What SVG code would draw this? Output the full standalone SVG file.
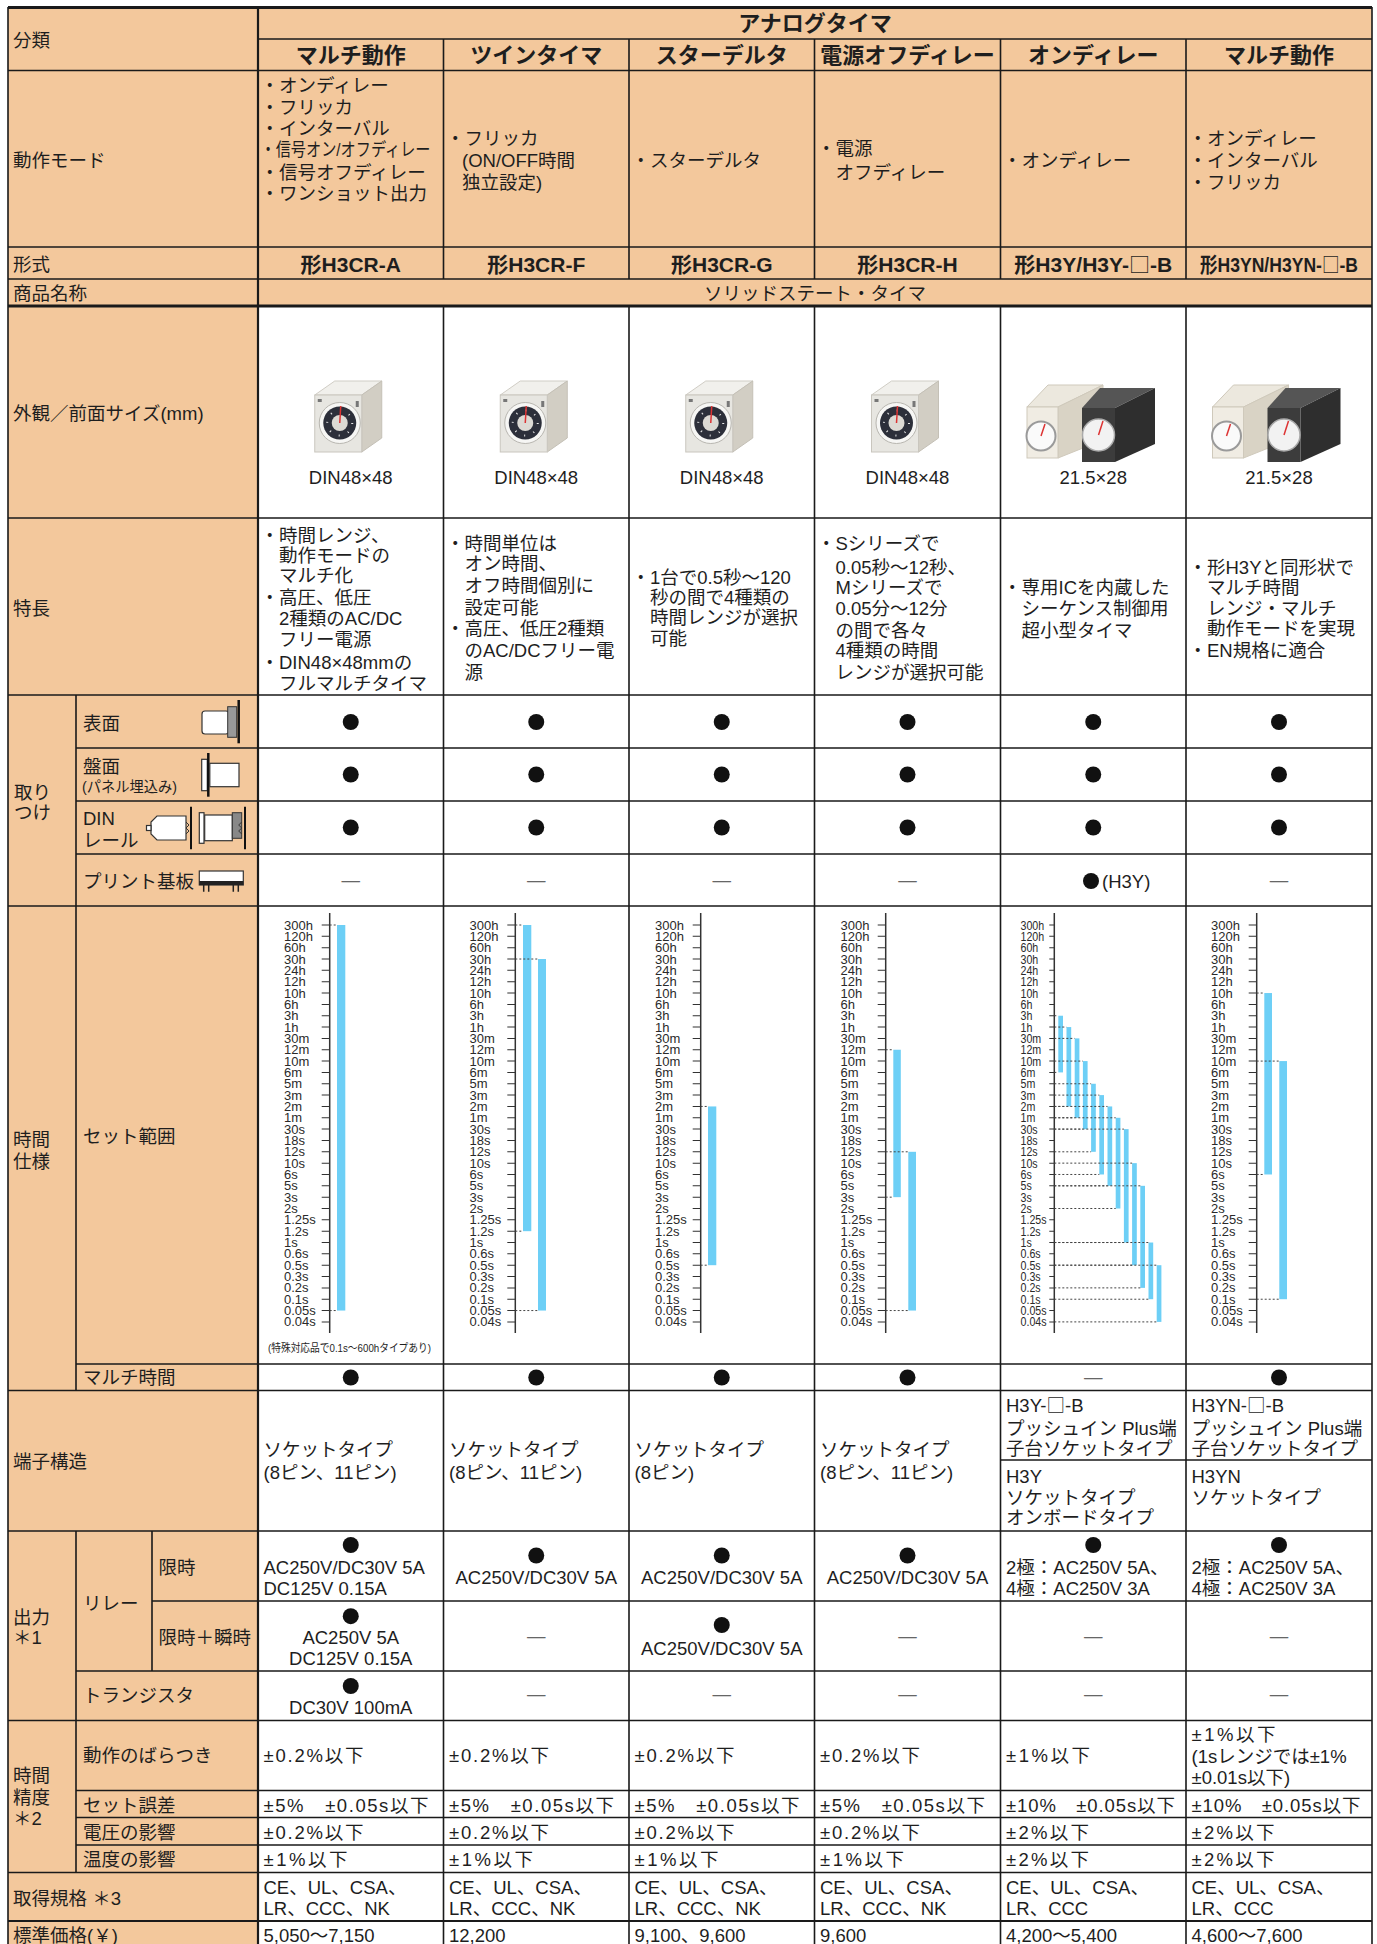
<svg xmlns="http://www.w3.org/2000/svg" xmlns:xlink="http://www.w3.org/1999/xlink" width="1377" height="1944" viewBox="0 0 1377 1944">
<defs>
<style>
.t{font-family:'Liberation Sans','Noto Sans CJK JP',sans-serif;font-size:18.5px;fill:#1e1e1e}
.c{text-anchor:middle}
.h{font-size:22px;font-weight:700}
.m{font-size:21px;font-weight:700}
.sm{font-size:14.5px}
.nt{font-size:11px}
.sq{font-family:'Noto Sans CJK JP',sans-serif;font-weight:400}
.tk{font-family:'Liberation Sans','Noto Sans CJK JP',sans-serif;font-size:13px;fill:#2a2a2a}
.dash{fill:#666}
.pe{fill:#F3C89C}
.ln{stroke:#1a1a1a;stroke-width:1.6;fill:none}
.thk{stroke:#1a1a1a;stroke-width:3;fill:none}
.bar{fill:#6DCFF6}
.dt{stroke:#444;stroke-width:1;stroke-dasharray:2 2;fill:none}
.ax{stroke:#333;stroke-width:1.5}
.tick{stroke:#333;stroke-width:8;stroke-dasharray:1 10.34}
.ic{fill:#fff;stroke:#333;stroke-width:1.2}
</style>
<g id="din">
<polygon points="-36,395 -16,381 31,381 11,395" fill="#F1F0EC" stroke="#D0CDC5"/>
<polygon points="11,395 31,381 31,438 11,452" fill="#D2CEC4" stroke="#C4C0B6"/>
<rect x="-36" y="395" width="47" height="57" fill="#E7E6E1" stroke="#C9C6BE"/>
<circle cx="-11" cy="423" r="20.5" fill="#F6F6F4" stroke="#B8B6B0"/>
<circle cx="-11" cy="423" r="16.5" fill="#2C2F3A"/>
<circle cx="-11" cy="423" r="12.5" fill="none" stroke="#E8E8E8" stroke-width="2" stroke-dasharray="1 8.8"/>
<circle cx="-11" cy="423" r="8" fill="#DCDAD4"/>
<line x1="-11" y1="423" x2="-10" y2="406" stroke="#D33" stroke-width="1.5"/>
<rect x="-33" y="399" width="4" height="3" fill="#777"/>
<rect x="5" y="401" width="3" height="6" fill="#777"/>
</g>
<g id="h3y">
<polygon points="1027,407 1048,385 1103,385 1058,407" fill="#ECE8DE" stroke="#CFC9BB"/>
<polygon points="1058,407 1103,385 1103,440 1058,458" fill="#D9D3C5" stroke="#CFC9BB"/>
<rect x="1027" y="407" width="31" height="51" fill="#F0ECE3" stroke="#CFC9BB"/>
<circle cx="1041" cy="436" r="14.5" fill="#FAFAFA" stroke="#9A9A9A" stroke-width="2"/>
<line x1="1041" y1="436" x2="1045" y2="424" stroke="#D33" stroke-width="1.5"/>
<polygon points="1082,408 1100,388 1155,388 1115,408" fill="#555"/>
<polygon points="1115,408 1155,388 1155,444 1115,462" fill="#2E2E2E"/>
<rect x="1082" y="408" width="33" height="54" fill="#3C3C3C"/>
<circle cx="1098.5" cy="435" r="16" fill="#F2F2F2" stroke="#AAA" stroke-width="1.5"/>
<line x1="1098.5" y1="435" x2="1103" y2="421" stroke="#D33" stroke-width="1.5"/>
</g>
</defs>

<rect x="0" y="0" width="1377" height="1944" fill="#fff"/>
<rect class="pe" x="8" y="7" width="1364" height="299"/>
<rect class="pe" x="8" y="306" width="250" height="1638"/>

<g id="grid">
<path class="ln" d="M8 70.5H1372M8 247H1372M8 279H1372M8 518H1372M8 695H1372M8 906H1372M8 1390.5H1372M8 1531H1372M8 1720.5H1372M8 1872.5H1372M258 39H1372M76 748H1372M76 801H1372M76 854H1372M76 1364H1372M1000.5 1460H1372M152 1601H1372M76 1671H1372M76 1790.5H1372M76 1817.5H1372M76 1845H1372"/>
<path class="ln" d="M8 7V1944M1372 7V1944M443.5 39V279M443.5 306V1944M629 39V279M629 306V1944M814.5 39V279M814.5 306V1944M1000.5 39V279M1000.5 306V1944M1186 39V279M1186 306V1944M76 695V1390.5M76 1531V1872.5M152 1531V1671"/>
<path class="thk" d="M8 7.5H1372M8 306H1372"/>
<path class="thk" style="stroke-width:2.2" d="M8 1921H1372M258 7V1944"/>
</g>

<g id="labels" class="t">
<text x="13" y="46.8">分類</text>
<text x="13" y="166.8">動作モード</text>
<text x="13" y="270.8">形式</text>
<text x="13" y="299.8">商品名称</text>
<text x="13" y="419.8">外観／前面サイズ(mm)</text>
<text x="13" y="614.8">特長</text>
<text x="14" y="798.5">取り</text>
<text x="14" y="818.5">つけ</text>
<text x="83" y="729.5">表面</text>
<text x="83" y="772.8">盤面</text>
<text class="sm" x="82" y="791.7" textLength="95" lengthAdjust="spacingAndGlyphs">(パネル埋込み)</text>
<text x="83" y="825">DIN</text>
<text x="83" y="846.8">レール</text>
<text x="83" y="887.8">プリント基板</text>
<text x="13" y="1145.8">時間</text>
<text x="13" y="1167.8">仕様</text>
<text x="83" y="1142.8">セット範囲</text>
<text x="83" y="1384.3">マルチ時間</text>
<text x="13" y="1468">端子構造</text>
<text x="13" y="1623.8">出力</text>
<text x="13" y="1644.3">＊1</text>
<text x="83" y="1609.6">リレー</text>
<text x="158.5" y="1573.5">限時</text>
<text x="158.5" y="1644.3">限時＋瞬時</text>
<text x="83" y="1702">トランジスタ</text>
<text x="13" y="1782">時間</text>
<text x="13" y="1804.4">精度</text>
<text x="13" y="1824.8">＊2</text>
<text x="83" y="1762.3">動作のばらつき</text>
<text x="83" y="1811.8">セット誤差</text>
<text x="83" y="1839">電圧の影響</text>
<text x="83" y="1865.8">温度の影響</text>
<text x="13" y="1904.8">取得規格 ＊3</text>
<text x="13" y="1942.2">標準価格(￥)</text>
</g>

<g id="mount-icons">
<rect class="ic" x="202" y="711" width="27" height="23" rx="3"/>
<rect x="227.7" y="706.7" width="9" height="30.6" fill="#999" stroke="#333" stroke-width="1"/>
<line x1="238.7" y1="700" x2="238.7" y2="743.3" stroke="#111" stroke-width="2.5"/>
<rect class="ic" x="201.7" y="759.3" width="5.6" height="31.4"/>
<line x1="208.3" y1="753" x2="208.3" y2="796.7" stroke="#111" stroke-width="2.5"/>
<rect class="ic" x="209.8" y="763.3" width="29.2" height="23.4"/>
<path class="ic" d="M157 816H186V840H157L151 834V822Z"/>
<rect class="ic" x="146.5" y="825.5" width="4.5" height="5"/>
<path d="M186 822l3 3-3 3 3 3-3 3" fill="none" stroke="#333" stroke-width="1"/>
<line x1="191" y1="806.7" x2="191" y2="849.3" stroke="#111" stroke-width="2"/>
<rect class="ic" x="199.3" y="812.7" width="4.7" height="30.6"/>
<rect class="ic" x="204.7" y="815" width="27.6" height="25.7"/>
<rect x="232.3" y="812.7" width="9.4" height="25.6" fill="#888" stroke="#333" stroke-width="1"/>
<path d="M241.7 822l-3 3 3 3-3 3 3 3" fill="none" stroke="#333" stroke-width="1"/>
<line x1="245" y1="806.7" x2="245" y2="849.3" stroke="#111" stroke-width="2"/>
<rect class="ic" x="199.3" y="871" width="44" height="14"/>
<rect x="199.3" y="881" width="44" height="4" fill="#222"/>
<path d="M203.7 885V891.7M208.7 885V891.7M233.3 885V891.7M238.3 885V891.7" stroke="#222" stroke-width="1.5"/>
</g>

<g id="header" class="t">
<text class="h c" x="815" y="31.1">アナログタイマ</text>
<text class="h c" x="350.75" y="63.1">マルチ動作</text>
<text class="h c" x="536.25" y="63.1">ツインタイマ</text>
<text class="h c" x="721.75" y="63.1">スターデルタ</text>
<text class="h c" x="907.5" y="63.1">電源オフディレー</text>
<text class="h c" x="1093.25" y="63.1">オンディレー</text>
<text class="h c" x="1279" y="63.1">マルチ動作</text>
</g>

<g id="mode" class="t">
<text x="260.5" y="91.8">・オンディレー</text>
<text x="260.5" y="113.8">・フリッカ</text>
<text x="260.5" y="134.8">・インターバル</text>
<text x="260.5" y="155.8" textLength="170" lengthAdjust="spacingAndGlyphs">・信号オン/オフディレー</text>
<text x="260.5" y="178.8">・信号オフディレー</text>
<text x="260.5" y="199.8">・ワンショット出力</text>
<text x="446" y="145.1">・フリッカ</text>
<text x="462" y="166.8">(ON/OFF時間</text>
<text x="462" y="188.5">独立設定)</text>
<text x="631.5" y="166.8">・スターデルタ</text>
<text x="817" y="155.1">・電源</text>
<text x="835.5" y="178.5">オフディレー</text>
<text x="1003" y="166.8">・オンディレー</text>
<text x="1188.5" y="145.1">・オンディレー</text>
<text x="1188.5" y="166.8">・インターバル</text>
<text x="1188.5" y="188.5">・フリッカ</text>
</g>

<g id="model" class="t">
<text class="m c" x="350.75" y="271.8">形H3CR-A</text>
<text class="m c" x="536.25" y="271.8">形H3CR-F</text>
<text class="m c" x="721.75" y="271.8">形H3CR-G</text>
<text class="m c" x="907.5" y="271.8">形H3CR-H</text>
<text class="m c" x="1093.25" y="271.8" textLength="158" lengthAdjust="spacingAndGlyphs">形H3Y/H3Y-<tspan class="sq">□</tspan>-B</text>
<text class="m c" x="1279" y="271.8" textLength="158" lengthAdjust="spacingAndGlyphs">形H3YN/H3YN-<tspan class="sq">□</tspan>-B</text>
<text class="c" x="815" y="300.1">ソリッドステート・タイマ</text>
</g>

<g id="appearance">
<use href="#din" x="350.75"/>
<use href="#din" x="536.25"/>
<use href="#din" x="721.75"/>
<use href="#din" x="907.5"/>
<use href="#h3y"/>
<use href="#h3y" x="185.5"/>
<g class="t">
<text class="c" x="350.75" y="483.5">DIN48×48</text>
<text class="c" x="536.25" y="483.5">DIN48×48</text>
<text class="c" x="721.75" y="483.5">DIN48×48</text>
<text class="c" x="907.5" y="483.5">DIN48×48</text>
<text class="c" x="1093.25" y="483.5">21.5×28</text>
<text class="c" x="1279" y="483.5">21.5×28</text>
</g>
</g>

<g id="features" class="t">
<text x="260.5" y="541.8">・時間レンジ、</text>
<text x="279" y="561.8">動作モードの</text>
<text x="279" y="581.8">マルチ化</text>
<text x="260.5" y="604.1">・高圧、低圧</text>
<text x="279" y="625.1">2種類のAC/DC</text>
<text x="279" y="646.1">フリー電源</text>
<text x="260.5" y="668.5">・DIN48×48mmの</text>
<text x="279" y="690.1">フルマルチタイマ</text>
<text x="446" y="550.1">・時間単位は</text>
<text x="464.5" y="570.1">オン時間、</text>
<text x="464.5" y="591.8">オフ時間個別に</text>
<text x="464.5" y="613.5">設定可能</text>
<text x="446" y="635.1">・高圧、低圧2種類</text>
<text x="464.5" y="656.8">のAC/DCフリー電</text>
<text x="464.5" y="678.5">源</text>
<text x="631.5" y="583.5">・1台で0.5秒～120</text>
<text x="650" y="603.5">秒の間で4種類の</text>
<text x="650" y="623.5">時間レンジが選択</text>
<text x="650" y="645.1">可能</text>
<text x="817" y="550.1">・Sシリーズで</text>
<text x="835.5" y="573.5">0.05秒～12秒、</text>
<text x="835.5" y="593.5">Mシリーズで</text>
<text x="835.5" y="615.1">0.05分～12分</text>
<text x="835.5" y="636.8">の間で各々</text>
<text x="835.5" y="656.8">4種類の時間</text>
<text x="835.5" y="678.5">レンジが選択可能</text>
<text x="1003" y="593.5">・専用ICを内蔵した</text>
<text x="1021.5" y="615.1">シーケンス制御用</text>
<text x="1021.5" y="636.8">超小型タイマ</text>
<text x="1188.5" y="573.5">・形H3Yと同形状で</text>
<text x="1207" y="593.5">マルチ時間</text>
<text x="1207" y="615.1">レンジ・マルチ</text>
<text x="1207" y="635.1">動作モードを実現</text>
<text x="1188.5" y="656.8">・EN規格に適合</text>
</g>

<g id="mounting">
<g fill="#111">
<circle cx="350.75" cy="722" r="8"/><circle cx="536.25" cy="722" r="8"/><circle cx="721.75" cy="722" r="8"/><circle cx="907.5" cy="722" r="8"/><circle cx="1093.25" cy="722" r="8"/><circle cx="1279" cy="722" r="8"/>
<circle cx="350.75" cy="774.5" r="8"/><circle cx="536.25" cy="774.5" r="8"/><circle cx="721.75" cy="774.5" r="8"/><circle cx="907.5" cy="774.5" r="8"/><circle cx="1093.25" cy="774.5" r="8"/><circle cx="1279" cy="774.5" r="8"/>
<circle cx="350.75" cy="827.5" r="8"/><circle cx="536.25" cy="827.5" r="8"/><circle cx="721.75" cy="827.5" r="8"/><circle cx="907.5" cy="827.5" r="8"/><circle cx="1093.25" cy="827.5" r="8"/><circle cx="1279" cy="827.5" r="8"/>
<circle cx="1091" cy="881" r="8"/>
</g>
<g class="t">
<text class="c dash" x="350.75" y="886">—</text>
<text class="c dash" x="536.25" y="886">—</text>
<text class="c dash" x="721.75" y="886">—</text>
<text class="c dash" x="907.5" y="886">—</text>
<text class="c dash" x="1279" y="886">—</text>
<text x="1102" y="887.8">(H3Y)</text>
</g>
</g>

<g id="time-range">
<g class="ax">
<line x1="329.7" y1="913" x2="329.7" y2="1333"/>
<line x1="515.3" y1="913" x2="515.3" y2="1333"/>
<line x1="700.7" y1="913" x2="700.7" y2="1333"/>
<line x1="885.7" y1="913" x2="885.7" y2="1333"/>
<line x1="1054.3" y1="913" x2="1054.3" y2="1333"/>
<line x1="1256.7" y1="913" x2="1256.7" y2="1333"/>
</g>
<g class="tick">
<line x1="325.7" y1="924.5" x2="325.7" y2="1323"/>
<line x1="511.3" y1="924.5" x2="511.3" y2="1323"/>
<line x1="696.7" y1="924.5" x2="696.7" y2="1323"/>
<line x1="881.7" y1="924.5" x2="881.7" y2="1323"/>
<line x1="1051.8" y1="924.5" x2="1051.8" y2="1323" style="stroke-width:5"/>
<line x1="1252.7" y1="924.5" x2="1252.7" y2="1323"/>
</g>
<g class="bar">
<rect x="337" y="925" width="8.3" height="385.56"/>
<rect x="523" y="925" width="8.3" height="306.18"/>
<rect x="538" y="959.02" width="8" height="351.54"/>
<rect x="708" y="1106.44" width="8.3" height="158.76"/>
<rect x="893.3" y="1049.74" width="7.5" height="147.42"/>
<rect x="908.3" y="1151.8" width="7.7" height="158.76"/>
<rect x="1264.3" y="993.04" width="7.7" height="181.44"/>
<rect x="1279.3" y="1061.08" width="7.7" height="238.14"/>
<rect x="1058.3" y="1015.72" width="4.7" height="56.7"/>
<rect x="1066.5" y="1027.06" width="4.7" height="79.38"/>
<rect x="1074.7" y="1038.4" width="4.7" height="79.38"/>
<rect x="1082.9" y="1061.08" width="4.7" height="68.04"/>
<rect x="1091.1" y="1083.76" width="4.7" height="68.04"/>
<rect x="1099.3" y="1095.1" width="4.7" height="79.38"/>
<rect x="1107.5" y="1106.44" width="4.7" height="79.38"/>
<rect x="1115.7" y="1117.78" width="4.7" height="90.72"/>
<rect x="1123.9" y="1129.12" width="4.7" height="113.4"/>
<rect x="1132.1" y="1163.14" width="4.7" height="102.06"/>
<rect x="1140.3" y="1185.82" width="4.7" height="102.06"/>
<rect x="1148.5" y="1242.52" width="4.7" height="56.7"/>
<rect x="1156.7" y="1265.2" width="4.7" height="56.7"/>
</g>
<path class="dt" d="M329.7 925H337M329.7 1310.56H337M515.3 925H523M515.3 1231.18H523M515.3 959.02H538M515.3 1310.56H538M700.7 1106.44H708M700.7 1265.2H708M885.7 1049.74H893.3M885.7 1197.16H893.3M885.7 1151.8H908.3M885.7 1310.56H908.3M1256.7 993.04H1264.3M1256.7 1174.48H1264.3M1256.7 1061.08H1279.3M1256.7 1299.22H1279.3M1054.3 1015.72H1058.3M1054.3 1072.42H1058.3M1054.3 1027.06H1066.5M1054.3 1106.44H1066.5M1054.3 1038.4H1074.7M1054.3 1117.78H1074.7M1054.3 1061.08H1082.9M1054.3 1129.12H1082.9M1054.3 1083.76H1091.1M1054.3 1151.8H1091.1M1054.3 1095.1H1099.3M1054.3 1174.48H1099.3M1054.3 1106.44H1107.5M1054.3 1185.82H1107.5M1054.3 1117.78H1115.7M1054.3 1208.5H1115.7M1054.3 1129.12H1123.9M1054.3 1242.52H1123.9M1054.3 1163.14H1132.1M1054.3 1265.2H1132.1M1054.3 1185.82H1140.3M1054.3 1287.88H1140.3M1054.3 1242.52H1148.5M1054.3 1299.22H1148.5M1054.3 1265.2H1156.7M1054.3 1321.9H1156.7"/>
<text class="tk" transform="translate(284,929.5)"><tspan x="0">300h</tspan><tspan x="0" dy="11.34">120h</tspan><tspan x="0" dy="11.34">60h</tspan><tspan x="0" dy="11.34">30h</tspan><tspan x="0" dy="11.34">24h</tspan><tspan x="0" dy="11.34">12h</tspan><tspan x="0" dy="11.34">10h</tspan><tspan x="0" dy="11.34">6h</tspan><tspan x="0" dy="11.34">3h</tspan><tspan x="0" dy="11.34">1h</tspan><tspan x="0" dy="11.34">30m</tspan><tspan x="0" dy="11.34">12m</tspan><tspan x="0" dy="11.34">10m</tspan><tspan x="0" dy="11.34">6m</tspan><tspan x="0" dy="11.34">5m</tspan><tspan x="0" dy="11.34">3m</tspan><tspan x="0" dy="11.34">2m</tspan><tspan x="0" dy="11.34">1m</tspan><tspan x="0" dy="11.34">30s</tspan><tspan x="0" dy="11.34">18s</tspan><tspan x="0" dy="11.34">12s</tspan><tspan x="0" dy="11.34">10s</tspan><tspan x="0" dy="11.34">6s</tspan><tspan x="0" dy="11.34">5s</tspan><tspan x="0" dy="11.34">3s</tspan><tspan x="0" dy="11.34">2s</tspan><tspan x="0" dy="11.34">1.25s</tspan><tspan x="0" dy="11.34">1.2s</tspan><tspan x="0" dy="11.34">1s</tspan><tspan x="0" dy="11.34">0.6s</tspan><tspan x="0" dy="11.34">0.5s</tspan><tspan x="0" dy="11.34">0.3s</tspan><tspan x="0" dy="11.34">0.2s</tspan><tspan x="0" dy="11.34">0.1s</tspan><tspan x="0" dy="11.34">0.05s</tspan><tspan x="0" dy="11.34">0.04s</tspan></text>
<text class="tk" transform="translate(469.5,929.5)"><tspan x="0">300h</tspan><tspan x="0" dy="11.34">120h</tspan><tspan x="0" dy="11.34">60h</tspan><tspan x="0" dy="11.34">30h</tspan><tspan x="0" dy="11.34">24h</tspan><tspan x="0" dy="11.34">12h</tspan><tspan x="0" dy="11.34">10h</tspan><tspan x="0" dy="11.34">6h</tspan><tspan x="0" dy="11.34">3h</tspan><tspan x="0" dy="11.34">1h</tspan><tspan x="0" dy="11.34">30m</tspan><tspan x="0" dy="11.34">12m</tspan><tspan x="0" dy="11.34">10m</tspan><tspan x="0" dy="11.34">6m</tspan><tspan x="0" dy="11.34">5m</tspan><tspan x="0" dy="11.34">3m</tspan><tspan x="0" dy="11.34">2m</tspan><tspan x="0" dy="11.34">1m</tspan><tspan x="0" dy="11.34">30s</tspan><tspan x="0" dy="11.34">18s</tspan><tspan x="0" dy="11.34">12s</tspan><tspan x="0" dy="11.34">10s</tspan><tspan x="0" dy="11.34">6s</tspan><tspan x="0" dy="11.34">5s</tspan><tspan x="0" dy="11.34">3s</tspan><tspan x="0" dy="11.34">2s</tspan><tspan x="0" dy="11.34">1.25s</tspan><tspan x="0" dy="11.34">1.2s</tspan><tspan x="0" dy="11.34">1s</tspan><tspan x="0" dy="11.34">0.6s</tspan><tspan x="0" dy="11.34">0.5s</tspan><tspan x="0" dy="11.34">0.3s</tspan><tspan x="0" dy="11.34">0.2s</tspan><tspan x="0" dy="11.34">0.1s</tspan><tspan x="0" dy="11.34">0.05s</tspan><tspan x="0" dy="11.34">0.04s</tspan></text>
<text class="tk" transform="translate(655,929.5)"><tspan x="0">300h</tspan><tspan x="0" dy="11.34">120h</tspan><tspan x="0" dy="11.34">60h</tspan><tspan x="0" dy="11.34">30h</tspan><tspan x="0" dy="11.34">24h</tspan><tspan x="0" dy="11.34">12h</tspan><tspan x="0" dy="11.34">10h</tspan><tspan x="0" dy="11.34">6h</tspan><tspan x="0" dy="11.34">3h</tspan><tspan x="0" dy="11.34">1h</tspan><tspan x="0" dy="11.34">30m</tspan><tspan x="0" dy="11.34">12m</tspan><tspan x="0" dy="11.34">10m</tspan><tspan x="0" dy="11.34">6m</tspan><tspan x="0" dy="11.34">5m</tspan><tspan x="0" dy="11.34">3m</tspan><tspan x="0" dy="11.34">2m</tspan><tspan x="0" dy="11.34">1m</tspan><tspan x="0" dy="11.34">30s</tspan><tspan x="0" dy="11.34">18s</tspan><tspan x="0" dy="11.34">12s</tspan><tspan x="0" dy="11.34">10s</tspan><tspan x="0" dy="11.34">6s</tspan><tspan x="0" dy="11.34">5s</tspan><tspan x="0" dy="11.34">3s</tspan><tspan x="0" dy="11.34">2s</tspan><tspan x="0" dy="11.34">1.25s</tspan><tspan x="0" dy="11.34">1.2s</tspan><tspan x="0" dy="11.34">1s</tspan><tspan x="0" dy="11.34">0.6s</tspan><tspan x="0" dy="11.34">0.5s</tspan><tspan x="0" dy="11.34">0.3s</tspan><tspan x="0" dy="11.34">0.2s</tspan><tspan x="0" dy="11.34">0.1s</tspan><tspan x="0" dy="11.34">0.05s</tspan><tspan x="0" dy="11.34">0.04s</tspan></text>
<text class="tk" transform="translate(840.5,929.5)"><tspan x="0">300h</tspan><tspan x="0" dy="11.34">120h</tspan><tspan x="0" dy="11.34">60h</tspan><tspan x="0" dy="11.34">30h</tspan><tspan x="0" dy="11.34">24h</tspan><tspan x="0" dy="11.34">12h</tspan><tspan x="0" dy="11.34">10h</tspan><tspan x="0" dy="11.34">6h</tspan><tspan x="0" dy="11.34">3h</tspan><tspan x="0" dy="11.34">1h</tspan><tspan x="0" dy="11.34">30m</tspan><tspan x="0" dy="11.34">12m</tspan><tspan x="0" dy="11.34">10m</tspan><tspan x="0" dy="11.34">6m</tspan><tspan x="0" dy="11.34">5m</tspan><tspan x="0" dy="11.34">3m</tspan><tspan x="0" dy="11.34">2m</tspan><tspan x="0" dy="11.34">1m</tspan><tspan x="0" dy="11.34">30s</tspan><tspan x="0" dy="11.34">18s</tspan><tspan x="0" dy="11.34">12s</tspan><tspan x="0" dy="11.34">10s</tspan><tspan x="0" dy="11.34">6s</tspan><tspan x="0" dy="11.34">5s</tspan><tspan x="0" dy="11.34">3s</tspan><tspan x="0" dy="11.34">2s</tspan><tspan x="0" dy="11.34">1.25s</tspan><tspan x="0" dy="11.34">1.2s</tspan><tspan x="0" dy="11.34">1s</tspan><tspan x="0" dy="11.34">0.6s</tspan><tspan x="0" dy="11.34">0.5s</tspan><tspan x="0" dy="11.34">0.3s</tspan><tspan x="0" dy="11.34">0.2s</tspan><tspan x="0" dy="11.34">0.1s</tspan><tspan x="0" dy="11.34">0.05s</tspan><tspan x="0" dy="11.34">0.04s</tspan></text>
<text class="tk" transform="translate(1020.5,929.5) scale(0.82,1)"><tspan x="0">300h</tspan><tspan x="0" dy="11.34">120h</tspan><tspan x="0" dy="11.34">60h</tspan><tspan x="0" dy="11.34">30h</tspan><tspan x="0" dy="11.34">24h</tspan><tspan x="0" dy="11.34">12h</tspan><tspan x="0" dy="11.34">10h</tspan><tspan x="0" dy="11.34">6h</tspan><tspan x="0" dy="11.34">3h</tspan><tspan x="0" dy="11.34">1h</tspan><tspan x="0" dy="11.34">30m</tspan><tspan x="0" dy="11.34">12m</tspan><tspan x="0" dy="11.34">10m</tspan><tspan x="0" dy="11.34">6m</tspan><tspan x="0" dy="11.34">5m</tspan><tspan x="0" dy="11.34">3m</tspan><tspan x="0" dy="11.34">2m</tspan><tspan x="0" dy="11.34">1m</tspan><tspan x="0" dy="11.34">30s</tspan><tspan x="0" dy="11.34">18s</tspan><tspan x="0" dy="11.34">12s</tspan><tspan x="0" dy="11.34">10s</tspan><tspan x="0" dy="11.34">6s</tspan><tspan x="0" dy="11.34">5s</tspan><tspan x="0" dy="11.34">3s</tspan><tspan x="0" dy="11.34">2s</tspan><tspan x="0" dy="11.34">1.25s</tspan><tspan x="0" dy="11.34">1.2s</tspan><tspan x="0" dy="11.34">1s</tspan><tspan x="0" dy="11.34">0.6s</tspan><tspan x="0" dy="11.34">0.5s</tspan><tspan x="0" dy="11.34">0.3s</tspan><tspan x="0" dy="11.34">0.2s</tspan><tspan x="0" dy="11.34">0.1s</tspan><tspan x="0" dy="11.34">0.05s</tspan><tspan x="0" dy="11.34">0.04s</tspan></text>
<text class="tk" transform="translate(1211,929.5)"><tspan x="0">300h</tspan><tspan x="0" dy="11.34">120h</tspan><tspan x="0" dy="11.34">60h</tspan><tspan x="0" dy="11.34">30h</tspan><tspan x="0" dy="11.34">24h</tspan><tspan x="0" dy="11.34">12h</tspan><tspan x="0" dy="11.34">10h</tspan><tspan x="0" dy="11.34">6h</tspan><tspan x="0" dy="11.34">3h</tspan><tspan x="0" dy="11.34">1h</tspan><tspan x="0" dy="11.34">30m</tspan><tspan x="0" dy="11.34">12m</tspan><tspan x="0" dy="11.34">10m</tspan><tspan x="0" dy="11.34">6m</tspan><tspan x="0" dy="11.34">5m</tspan><tspan x="0" dy="11.34">3m</tspan><tspan x="0" dy="11.34">2m</tspan><tspan x="0" dy="11.34">1m</tspan><tspan x="0" dy="11.34">30s</tspan><tspan x="0" dy="11.34">18s</tspan><tspan x="0" dy="11.34">12s</tspan><tspan x="0" dy="11.34">10s</tspan><tspan x="0" dy="11.34">6s</tspan><tspan x="0" dy="11.34">5s</tspan><tspan x="0" dy="11.34">3s</tspan><tspan x="0" dy="11.34">2s</tspan><tspan x="0" dy="11.34">1.25s</tspan><tspan x="0" dy="11.34">1.2s</tspan><tspan x="0" dy="11.34">1s</tspan><tspan x="0" dy="11.34">0.6s</tspan><tspan x="0" dy="11.34">0.5s</tspan><tspan x="0" dy="11.34">0.3s</tspan><tspan x="0" dy="11.34">0.2s</tspan><tspan x="0" dy="11.34">0.1s</tspan><tspan x="0" dy="11.34">0.05s</tspan><tspan x="0" dy="11.34">0.04s</tspan></text>
<text class="t nt" x="268" y="1351.7" textLength="163" lengthAdjust="spacingAndGlyphs">(特殊対応品で0.1s～600hタイプあり)</text>
</g>

<g id="multi-time">
<g fill="#111">
<circle cx="350.75" cy="1377.5" r="8"/><circle cx="536.25" cy="1377.5" r="8"/><circle cx="721.75" cy="1377.5" r="8"/><circle cx="907.5" cy="1377.5" r="8"/><circle cx="1279" cy="1377.5" r="8"/>
</g>
<text class="t c dash" x="1093.25" y="1382.7">—</text>
</g>

<g id="terminal" class="t">
<text x="263.5" y="1456.2">ソケットタイプ</text>
<text x="263.5" y="1478.5">(8ピン、11ピン)</text>
<text x="449" y="1456.2">ソケットタイプ</text>
<text x="449" y="1478.5">(8ピン、11ピン)</text>
<text x="634.5" y="1456.2">ソケットタイプ</text>
<text x="634.5" y="1478.5">(8ピン)</text>
<text x="820" y="1456.2">ソケットタイプ</text>
<text x="820" y="1478.5">(8ピン、11ピン)</text>
<text x="1006" y="1412.2">H3Y-<tspan class="sq">□</tspan>-B</text>
<text x="1006" y="1435">プッシュイン Plus端</text>
<text x="1006" y="1455.1">子台ソケットタイプ</text>
<text x="1006" y="1483">H3Y</text>
<text x="1006" y="1503.8">ソケットタイプ</text>
<text x="1006" y="1524">オンボードタイプ</text>
<text x="1191.5" y="1412.2">H3YN-<tspan class="sq">□</tspan>-B</text>
<text x="1191.5" y="1435">プッシュイン Plus端</text>
<text x="1191.5" y="1455.1">子台ソケットタイプ</text>
<text x="1191.5" y="1483">H3YN</text>
<text x="1191.5" y="1503.8">ソケットタイプ</text>
</g>

<g id="output">
<g fill="#111">
<circle cx="350.75" cy="1545" r="8"/><circle cx="536.25" cy="1555.5" r="8"/><circle cx="721.75" cy="1555.5" r="8"/><circle cx="907.5" cy="1555.5" r="8"/><circle cx="1093.25" cy="1545" r="8"/><circle cx="1279" cy="1545" r="8"/>
<circle cx="350.75" cy="1616.2" r="8"/><circle cx="721.75" cy="1625" r="8"/><circle cx="350.75" cy="1686" r="8"/>
</g>
<g class="t">
<text x="263.5" y="1574.2">AC250V/DC30V 5A</text>
<text x="263.5" y="1594.8">DC125V 0.15A</text>
<text class="c" x="536.25" y="1583.6">AC250V/DC30V 5A</text>
<text class="c" x="721.75" y="1583.6">AC250V/DC30V 5A</text>
<text class="c" x="907.5" y="1583.6">AC250V/DC30V 5A</text>
<text x="1006" y="1574.2">2極：AC250V 5A、</text>
<text x="1006" y="1594.8">4極：AC250V 3A</text>
<text x="1191.5" y="1574.2">2極：AC250V 5A、</text>
<text x="1191.5" y="1594.8">4極：AC250V 3A</text>
<text class="c" x="350.75" y="1644.3">AC250V 5A</text>
<text class="c" x="350.75" y="1664.8">DC125V 0.15A</text>
<text class="c dash" x="536.25" y="1641.6">—</text>
<text class="c" x="721.75" y="1655.4">AC250V/DC30V 5A</text>
<text class="c dash" x="907.5" y="1641.6">—</text>
<text class="c dash" x="1093.25" y="1641.6">—</text>
<text class="c dash" x="1279" y="1641.6">—</text>
<text class="c" x="350.75" y="1713.8">DC30V 100mA</text>
<text class="c dash" x="536.25" y="1700.2">—</text>
<text class="c dash" x="721.75" y="1700.2">—</text>
<text class="c dash" x="907.5" y="1700.2">—</text>
<text class="c dash" x="1093.25" y="1700.2">—</text>
<text class="c dash" x="1279" y="1700.2">—</text>
</g>
</g>

<g id="accuracy" class="t">
<text x="263.5" y="1762.3" textLength="100" lengthAdjust="spacing">±0.2%以下</text>
<text x="449" y="1762.3" textLength="100" lengthAdjust="spacing">±0.2%以下</text>
<text x="634.5" y="1762.3" textLength="100" lengthAdjust="spacing">±0.2%以下</text>
<text x="820" y="1762.3" textLength="100" lengthAdjust="spacing">±0.2%以下</text>
<text x="1006" y="1762.3" textLength="84" lengthAdjust="spacing">±1%以下</text>
<text x="1191.5" y="1741.1" textLength="84" lengthAdjust="spacing">±1%以下</text>
<text x="1191.5" y="1763.4">(1sレンジでは±1%</text>
<text x="1191.5" y="1783.8">±0.01s以下)</text>
<text x="263.5" y="1811.8" textLength="165" lengthAdjust="spacing">±5%　±0.05s以下</text>
<text x="449" y="1811.8" textLength="165" lengthAdjust="spacing">±5%　±0.05s以下</text>
<text x="634.5" y="1811.8" textLength="165" lengthAdjust="spacing">±5%　±0.05s以下</text>
<text x="820" y="1811.8" textLength="165" lengthAdjust="spacing">±5%　±0.05s以下</text>
<text x="1006" y="1811.8" textLength="169" lengthAdjust="spacing">±10%　±0.05s以下</text>
<text x="1191.5" y="1811.8" textLength="169" lengthAdjust="spacing">±10%　±0.05s以下</text>
<text x="263.5" y="1839" textLength="100" lengthAdjust="spacing">±0.2%以下</text>
<text x="449" y="1839" textLength="100" lengthAdjust="spacing">±0.2%以下</text>
<text x="634.5" y="1839" textLength="100" lengthAdjust="spacing">±0.2%以下</text>
<text x="820" y="1839" textLength="100" lengthAdjust="spacing">±0.2%以下</text>
<text x="1006" y="1839" textLength="83" lengthAdjust="spacing">±2%以下</text>
<text x="1191.5" y="1839" textLength="83" lengthAdjust="spacing">±2%以下</text>
<text x="263.5" y="1865.8" textLength="84" lengthAdjust="spacing">±1%以下</text>
<text x="449" y="1865.8" textLength="84" lengthAdjust="spacing">±1%以下</text>
<text x="634.5" y="1865.8" textLength="84" lengthAdjust="spacing">±1%以下</text>
<text x="820" y="1865.8" textLength="84" lengthAdjust="spacing">±1%以下</text>
<text x="1006" y="1865.8" textLength="83" lengthAdjust="spacing">±2%以下</text>
<text x="1191.5" y="1865.8" textLength="83" lengthAdjust="spacing">±2%以下</text>
</g>

<g id="standards" class="t">
<text x="263.5" y="1893.8">CE、UL、CSA、</text>
<text x="263.5" y="1915">LR、CCC、NK</text>
<text x="449" y="1893.8">CE、UL、CSA、</text>
<text x="449" y="1915">LR、CCC、NK</text>
<text x="634.5" y="1893.8">CE、UL、CSA、</text>
<text x="634.5" y="1915">LR、CCC、NK</text>
<text x="820" y="1893.8">CE、UL、CSA、</text>
<text x="820" y="1915">LR、CCC、NK</text>
<text x="1006" y="1893.8">CE、UL、CSA、</text>
<text x="1006" y="1915">LR、CCC</text>
<text x="1191.5" y="1893.8">CE、UL、CSA、</text>
<text x="1191.5" y="1915">LR、CCC</text>
</g>

<g id="price" class="t">
<text x="263.5" y="1942.2">5,050～7,150</text>
<text x="449" y="1942.2">12,200</text>
<text x="634.5" y="1942.2">9,100、9,600</text>
<text x="820" y="1942.2">9,600</text>
<text x="1006" y="1942.2">4,200～5,400</text>
<text x="1191.5" y="1942.2">4,600～7,600</text>
</g>
</svg>
